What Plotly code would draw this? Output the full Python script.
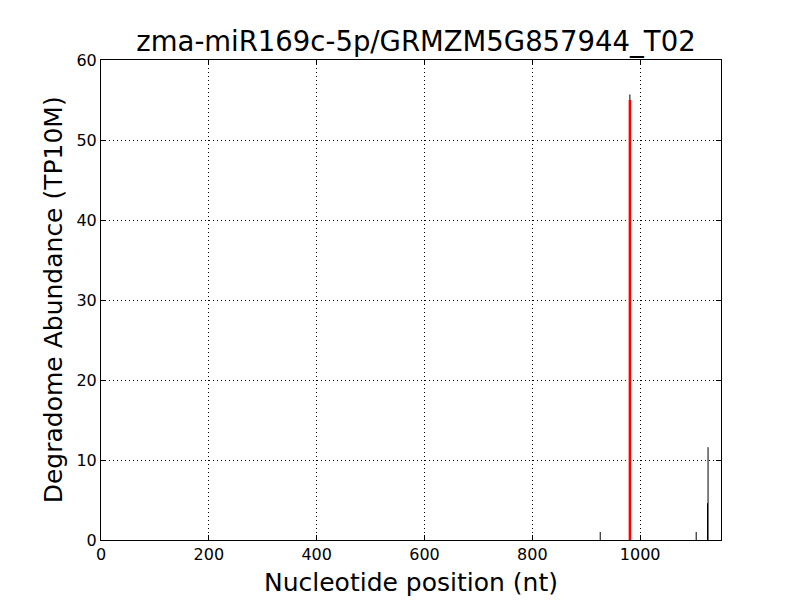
import plotly.graph_objects as go

# degradome peaks (position nt, abundance TP10M)
positions = [926, 981, 1104, 1125, 1126]
abundance = [1.0, 55.7, 1.0, 4.6, 11.6]
# miRNA cleavage site
site_pos = 981
site_height = 55.0

fig = go.Figure()

xs, ys = [], []
for p, a in zip(positions, abundance):
    xs += [p, p, None]
    ys += [0, a, None]
fig.add_trace(go.Scatter(x=xs, y=ys, mode="lines",
                         line=dict(color="black", width=1), showlegend=False))
fig.add_trace(go.Scatter(x=[site_pos, site_pos], y=[0, site_height], mode="lines",
                         line=dict(color="red", width=2.5), showlegend=False))

axis_common = dict(
    showline=True, linecolor="black", linewidth=1, mirror="ticks",
    ticks="inside", ticklen=5, tickcolor="black",
    showgrid=True, gridcolor="black", gridwidth=1, griddash="1px,3px",
    zeroline=False, tickfont=dict(size=16, color="black"), automargin=False,
)

# page has a small body offset, so margins compensate
fig.update_layout(
    width=800, height=600,
    paper_bgcolor="white", plot_bgcolor="white",
    font=dict(family="DejaVu Sans", color="black"),
    title=dict(text="zma-miR169c-5p/GRMZM5G857944_T02", x=0.51, xanchor="center",
               y=0.945, yanchor="middle", font=dict(size=27.5)),
    margin=dict(l=93, r=87, t=52, b=68),
    xaxis=dict(range=[0, 1150], tickvals=[0, 200, 400, 600, 800, 1000], **axis_common),
    yaxis=dict(range=[0, 60], tickvals=[0, 10, 20, 30, 40, 50, 60], **axis_common),
)

# axis titles as annotations for exact placement
fig.add_annotation(text="Nucleotide position (nt)", xref="paper", yref="paper",
                   x=0.5, y=-0.088, xanchor="center", yanchor="middle",
                   showarrow=False, font=dict(size=25))
fig.add_annotation(text="Degradome Abundance (TP10M)", xref="paper", yref="paper",
                   x=-0.077, y=0.5, xanchor="center", yanchor="middle", textangle=-90,
                   showarrow=False, font=dict(size=25))

fig.write_html("out.html")
